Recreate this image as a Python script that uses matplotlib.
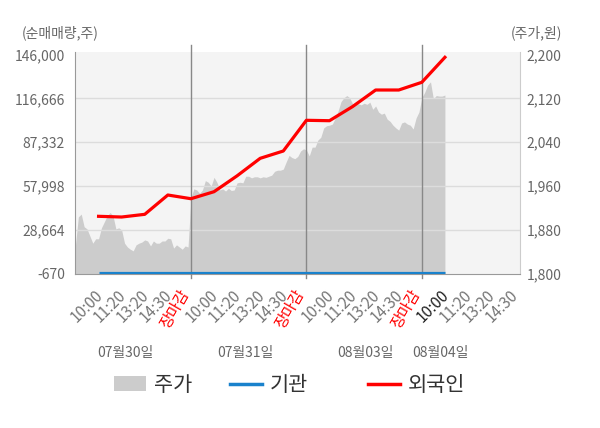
import matplotlib
matplotlib.use("Agg")
import matplotlib.pyplot as plt
import matplotlib.transforms as mtransforms
from matplotlib.patches import Patch
from matplotlib.lines import Line2D
import numpy as np

plt.rcParams['font.family'] = ['Noto Sans CJK KR', 'DejaVu Sans']

# 데이터
days = ['07월30일', '07월31일', '08월03일', '08월04일']
time_labels = ['10:00', '11:20', '13:20', '14:30', '장마감']
last_day_labels = ['10:00', '11:20', '13:20', '14:30']

# 주가 (원), 하루 40구간
price_d1 = [1853, 1904, 1909, 1886, 1882, 1869, 1856, 1864, 1864, 1884,
            1895, 1906, 1912, 1906, 1882, 1884, 1880, 1856, 1849, 1845,
            1842, 1853, 1856, 1858, 1862, 1860, 1851, 1860, 1856, 1856,
            1860, 1860, 1865, 1864, 1847, 1853, 1849, 1845, 1851, 1849]
price_d2 = [1938, 1955, 1953, 1947, 1953, 1970, 1967, 1960, 1976, 1967,
            1953, 1955, 1951, 1956, 1952, 1953, 1966, 1967, 1966, 1978,
            1978, 1975, 1977, 1977, 1975, 1977, 1976, 1978, 1980, 1987,
            1989, 1989, 1991, 2004, 2016, 2012, 2010, 2014, 2024, 2028]
price_d3 = [2026, 2015, 2031, 2031, 2044, 2049, 2066, 2070, 2071, 2073,
            2084, 2097, 2114, 2121, 2125, 2121, 2110, 2110, 2110, 2108,
            2111, 2109, 2113, 2100, 2106, 2095, 2091, 2093, 2082, 2078,
            2071, 2066, 2062, 2075, 2077, 2073, 2071, 2064, 2084, 2095]
price_d4 = [2121, 2131, 2144, 2150, 2119, 2125, 2124, 2124, 2126]

# 순매매량 누적 (주)
foreign = [37820, 37350, 39150, 52050, 49580, 54260, 64880, 76570,
           81450, 101970, 101700, 111120, 122210, 122210, 127360, 144060]
institution = [0, 0, 0, 0, 0, 0, 0, 0, 0, 0, 0, 0, 0, 0, 0, 0]

left_ticks = [-670, 28664, 57998, 87332, 116666, 146000]
right_ticks = [1800, 1880, 1960, 2040, 2120, 2200]

fig = plt.figure(figsize=(6, 4.28), dpi=100)
ax2 = fig.add_axes([0.1258, 0.36, 0.7408, 0.5192])
ax = ax2.twinx()
ax.set_zorder(ax2.get_zorder() + 1)
ax.patch.set_visible(False)
ax2.set_facecolor('#f4f4f4')

# 주가 영역 (하루씩 이어서)
steps = 40
prices = price_d1 + price_d2 + price_d3 + price_d4
xs = np.concatenate([i + np.arange(len(p)) / steps
                     for i, p in enumerate([price_d1, price_d2, price_d3, price_d4])])
ax2.fill_between(xs, 1700, prices, color='#cccccc', lw=0)

xl = 0.2 * (np.arange(len(foreign)) + 1)
ax.plot(xl, institution, color='#1a82cc', lw=2.3, solid_capstyle='butt', zorder=4)
ax.plot(xl, foreign, color='#ff0000', lw=2.3, zorder=5)

ax2.set_xlim(0, 3.85)
ax.set_ylim(-670, 147804)
ax2.set_ylim(1800, 2204.9)

# 축: 왼쪽 순매매량, 오른쪽 주가
ax.yaxis.tick_left()
ax2.yaxis.tick_right()
ax.set_yticks(left_ticks)
ax.set_yticklabels([f'{v:,}' for v in left_ticks])
ax2.set_yticks(right_ticks)
ax2.set_yticklabels([f'{v:,}' for v in right_ticks])
ax.tick_params(axis='y', length=0, pad=7.5, labelsize=10, labelcolor='#666666')
ax2.tick_params(axis='y', length=0, pad=5, labelsize=10, labelcolor='#666666')

for v in left_ticks[1:-1]:
    ax.axhline(v, color='#dcdcdc', lw=1, zorder=1)

# x 눈금
offsets = [0.25, 0.45, 0.65, 0.85, 1.0]
xt, xlab = [], []
for d in range(3):
    for o, lab in zip(offsets, time_labels):
        xt.append(d + o)
        xlab.append(lab)
for o, lab in zip(offsets, last_day_labels):
    xt.append(3 + o)
    xlab.append(lab)
ax2.set_xticks(xt)
ax2.set_xticklabels(xlab, rotation=45, ha='right', va='top', fontsize=11)
ax2.tick_params(axis='x', length=0, pad=9, labelcolor='#777777')
ax.tick_params(axis='x', bottom=False, labelbottom=False)
shift = mtransforms.ScaledTranslation(2 / 100, 0, fig.dpi_scale_trans)
labels = ax2.get_xticklabels()
for t in labels:
    t.set_transform(t.get_transform() + shift)
    if t.get_text() == '장마감':
        t.set_color('#ff0000')
        t.set_rotation(60)
labels[15].set_color('#222222')

for s in ['top']:
    ax.spines[s].set_visible(False)
    ax2.spines[s].set_visible(False)
ax.spines['right'].set_visible(False)
ax2.spines['left'].set_visible(False)
ax.spines['left'].set_color('#999999')
ax2.spines['right'].set_color('#cccccc')
ax.spines['bottom'].set_color('#999999')
ax2.spines['bottom'].set_visible(False)

# 날짜 구분선
trans = mtransforms.blended_transform_factory(ax.transData, ax.transAxes)
for d in [1, 2, 3]:
    ax.plot([d, d], [-0.018, 1.03], color='#888888', lw=1, transform=trans,
            clip_on=False, zorder=3)

date_pos = [0.43, 1.47, 2.51, 3.16]
for p, lab in zip(date_pos, days):
    ax.text(p, -0.355, lab, transform=trans, ha='center', va='center',
            fontsize=10, color='#666666')

fig.text(22 / 600, 1 - 33 / 428, '(순매매량,주)', ha='left', va='center',
         fontsize=10, color='#666666')
fig.text(562 / 600, 1 - 33 / 428, '(주가,원)', ha='right', va='center',
         fontsize=10, color='#666666')

# 범례
handles = [Patch(facecolor='#cccccc', edgecolor='none'),
           Line2D([], [], color='#1a82cc', lw=2.5),
           Line2D([], [], color='#ff0000', lw=2.5)]
legend_names = ['주가', '기관', '외국인']
legend_x = [114, 230, 368]
for h, name, lx in zip(handles, legend_names, legend_x):
    leg = fig.legend([h], [name], loc='center left',
                     bbox_to_anchor=(lx / 600, 1 - 385 / 428), frameon=False,
                     fontsize=15, handlelength=1.55, handletextpad=0.38,
                     borderpad=0, borderaxespad=0, labelcolor='#333333')

fig.savefig('out.png', dpi=100)
